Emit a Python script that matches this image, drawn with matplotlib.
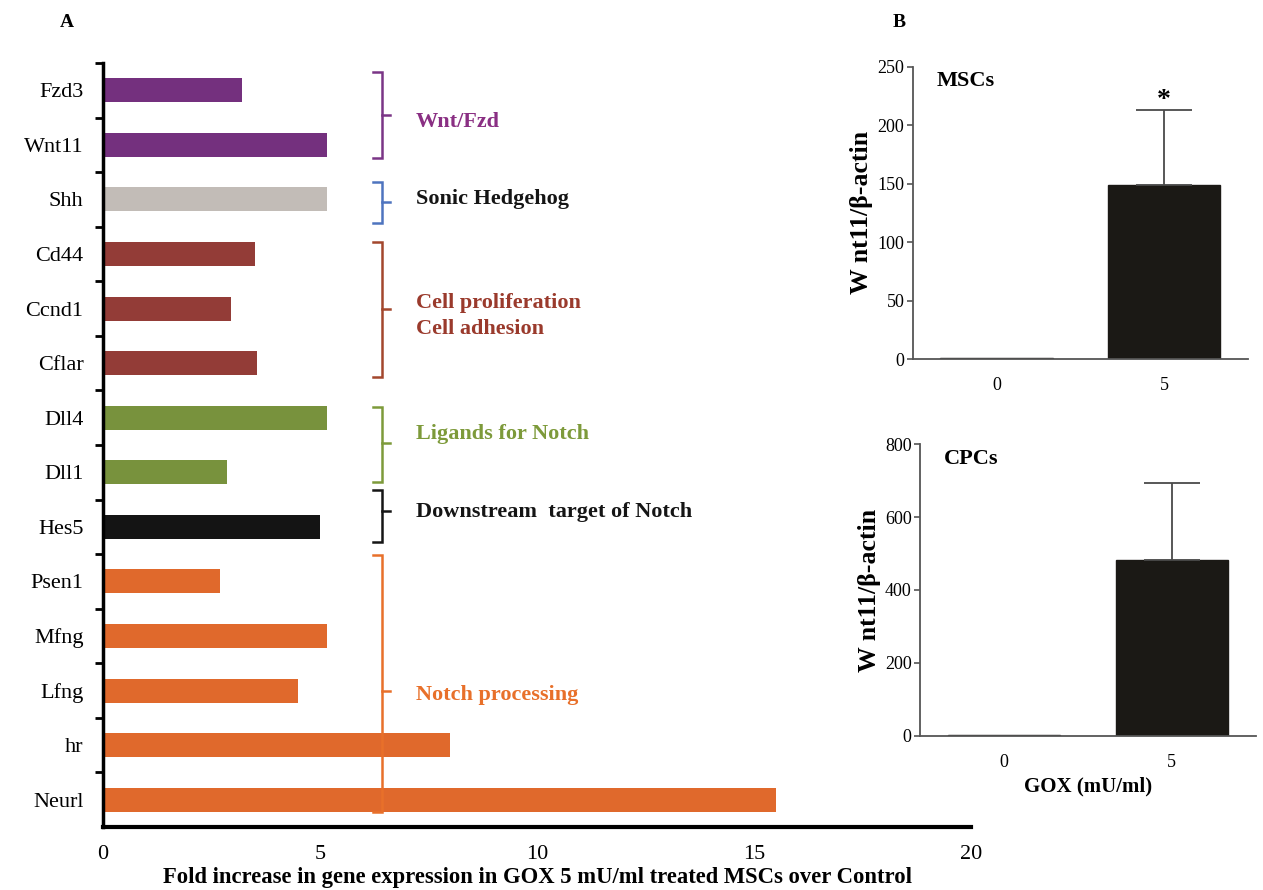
import matplotlib
matplotlib.use("Agg")
import matplotlib.pyplot as plt
import numpy as np

plt.rcParams['font.family'] = ['Liberation Serif', 'DejaVu Serif']

# Panel A data: fold increase in GOX 5 mU/ml treated MSCs over control
genes = ['Fzd3', 'Wnt11', 'Shh', 'Cd44', 'Ccnd1', 'Cflar', 'Dll4', 'Dll1',
         'Hes5', 'Psen1', 'Mfng', 'Lfng', 'hr', 'Neurl']
fold_change = [3.2, 5.15, 5.15, 3.5, 2.95, 3.55, 5.15, 2.85,
               5.0, 2.7, 5.15, 4.5, 8.0, 15.5]
gene_group = [0, 0, 1, 2, 2, 2, 3, 3, 4, 5, 5, 5, 5, 5]

group_names = ['Wnt/Fzd', 'Sonic Hedgehog', 'Cell proliferation\nCell adhesion',
               'Ligands for Notch', 'Downstream  target of Notch', 'Notch processing']
bar_colors = ['#74307e', '#c2bcb7', '#933c37', '#78923d', '#141414', '#e0692c']
text_colors = ['#8a2f83', '#151515', '#9a3a2c', '#7d9a3a', '#151515', '#e8702a']
bracket_colors = ['#7a3586', '#4e74bf', '#a3472d', '#7d9a3a', '#151515', '#e8702a']

# bracket layout (in category units): top, bottom, nub, text centre
bracket_top = [-0.33, 1.68, 2.78, 5.80, 7.32, 8.52]
bracket_bot = [1.24, 2.43, 5.25, 7.18, 8.28, 13.23]
bracket_nub = [0.45, 2.05, 4.0, 6.46, 7.71, 11.0]
text_pos = [0.58, 2.0, 4.14, 6.3, 7.73, 11.08]

# Panel B data: Wnt11/beta-actin
gox_dose = ['0', '5']
msc_values = [1, 149]
msc_err = [0, 64]
cpc_values = [1.5, 482]
cpc_err = [0, 213]

fig = plt.figure(figsize=(12.63, 8.9), dpi=100)

# ---------------- Panel A ----------------
ax = fig.add_axes([0.0816, 0.0708, 0.6872, 0.8584])
y = np.arange(len(genes))
ax.barh(y, fold_change, height=0.44, color=[bar_colors[g] for g in gene_group])
ax.set_ylim(len(genes) - 0.5, -0.5)
ax.set_xlim(0, 20)
ax.set_yticks(y)
ax.set_yticklabels(genes, fontsize=16)
ax.set_yticks(np.arange(-0.5, len(genes) - 1, 1), minor=True)
ax.tick_params(axis='y', which='major', length=0, pad=14)
ax.tick_params(axis='y', which='minor', length=6, width=2, direction='out')
ax.set_xticks([0, 5, 10, 15, 20])
ax.tick_params(axis='x', length=0, pad=13, labelsize=16)
ax.spines['top'].set_visible(False)
ax.spines['right'].set_visible(False)
ax.spines['left'].set_linewidth(2.5)
ax.spines['bottom'].set_linewidth(3)
ax.set_xlabel('Fold increase in gene expression in GOX 5 mU/ml treated MSCs over Control',
              fontsize=16.3, fontweight='bold', labelpad=2)

# group brackets
xv = 6.43
for gi, name in enumerate(group_names):
    top, bot, mid = bracket_top[gi], bracket_bot[gi], bracket_nub[gi]
    c = bracket_colors[gi]
    ax.plot([xv - 0.22, xv, xv, xv - 0.22], [top, top, bot, bot], color=c, lw=1.8,
            clip_on=False, solid_joinstyle='miter')
    ax.plot([xv, xv + 0.18], [mid, mid], color=c, lw=1.8, clip_on=False)
    ax.text(7.2, text_pos[gi], name, color=text_colors[gi], fontsize=16,
            fontweight='bold', va='center', ha='left', linespacing=1.4)

fig.text(0.047, 0.975, 'A', fontsize=14, fontweight='bold', va='center')
fig.text(0.707, 0.975, 'B', fontsize=14, fontweight='bold', va='center')


def small_bar(rect, values, errs, ymax, yticks, label):
    bx = fig.add_axes(rect)
    pos = np.arange(len(gox_dose))
    bx.bar(pos, values, width=0.67, color='#1b1915', edgecolor='#1b1915')
    for p, v, e in zip(pos, values, errs):
        if e > 0:
            bx.errorbar(p, v, yerr=[[0], [e]], color='#4a4a4a', capsize=20,
                        elinewidth=1.3, capthick=1.3)
    bx.set_xlim(-0.5, 1.5)
    bx.set_ylim(0, ymax)
    bx.set_yticks(yticks)
    bx.set_xticks(pos)
    bx.set_xticklabels(gox_dose)
    bx.tick_params(axis='x', length=0, pad=13, labelsize=13)
    bx.tick_params(axis='y', length=4, width=1.2, color='#555555', pad=2, labelsize=13)
    for s in ['top', 'right']:
        bx.spines[s].set_visible(False)
    for s in ['left', 'bottom']:
        bx.spines[s].set_color('#555555')
        bx.spines[s].set_linewidth(1.3)
    bx.set_ylabel('W nt11/β-actin', fontsize=18.5, fontweight='bold', labelpad=3)
    bx.text(0.07, 0.95, label, transform=bx.transAxes, fontsize=16,
            fontweight='bold', va='center', ha='left')
    return bx


bx1 = small_bar([0.7227, 0.5966, 0.2655, 0.3285], msc_values, msc_err, 250,
                [0, 50, 100, 150, 200, 250], 'MSCs')
bx1.annotate('*', xy=(1, msc_values[1] + msc_err[1]), xytext=(0, -2),
             textcoords='offset points', ha='center', va='bottom',
             fontsize=20, fontweight='bold')

bx2 = small_bar([0.7284, 0.1734, 0.2658, 0.3274], cpc_values, cpc_err, 800,
                [0, 200, 400, 600, 800], 'CPCs')
bx2.set_xlabel('GOX (mU/ml)', fontsize=15, fontweight='bold', labelpad=4)

fig.savefig('out.png', dpi=100)
